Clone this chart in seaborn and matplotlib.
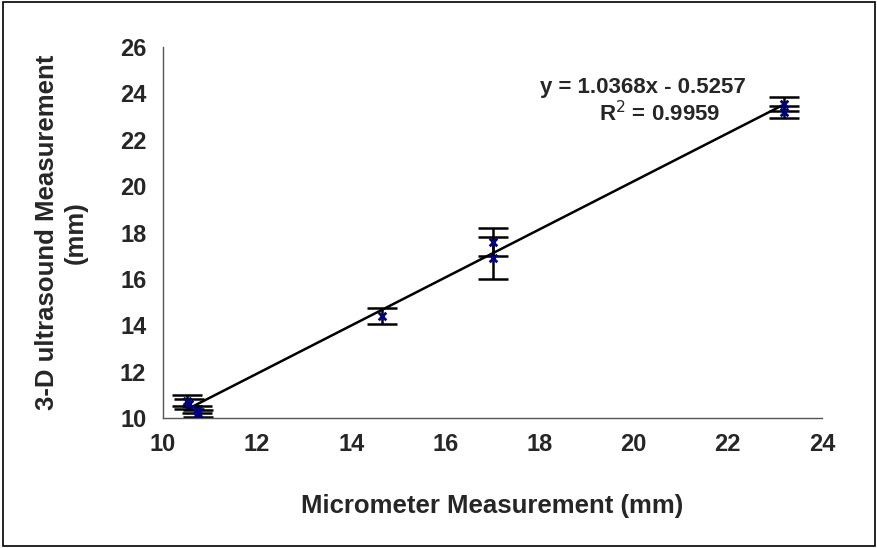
import numpy as np
import pandas as pd
import matplotlib
matplotlib.use("Agg")
import matplotlib.pyplot as plt
import seaborn as sns
from matplotlib.patches import Rectangle

# Data
micrometer = [10.52, 10.56, 10.72, 10.74, 14.65, 17.0, 17.0, 23.2, 23.2]
ultrasound = [10.75, 10.60, 10.35, 10.20, 14.40, 17.60, 16.90, 23.55, 23.20]
err = [0.25, 0.20, 0.15, 0.15, 0.33, 0.60, 0.90, 0.30, 0.25]
slope = 1.0368
intercept = -0.5257
r2 = 0.9959
x_ticks = [10, 12, 14, 16, 18, 20, 22, 24]
y_ticks = [10, 12, 14, 16, 18, 20, 22, 24, 26]

sns.set_style("white")
plt.rcParams['font.family'] = ['Liberation Sans', 'DejaVu Sans']

df = pd.DataFrame({"x": micrometer, "y": ultrasound, "e": err})

FS_TICK = 17
FS_LAB = 18.5
FS_EQ = 16

W, H = 878, 548
fig = plt.figure(figsize=(8.78, 5.48), dpi=100)
ax = fig.add_axes([163/W, 1-418/H, (822-163)/W, (418-47)/H])

ax.errorbar(df["x"], df["y"], yerr=df["e"], fmt='none', ecolor='black',
            elinewidth=1.8, capsize=11, capthick=1.8, zorder=2)
sns.scatterplot(data=df, x="x", y="y", marker='x', color='#000080', s=30,
                linewidth=2, ax=ax, zorder=3)

xl = np.array([min(micrometer), max(micrometer)])
ax.plot(xl, slope*xl + intercept, color='black', lw=1.8, zorder=2.5)

ax.set_xlim(10, 24)
ax.set_ylim(10, 26)
ax.set_xticks(x_ticks)
ax.set_yticks(y_ticks)
ax.tick_params(axis='both', direction='out', length=6, width=1, color='#555555',
               labelsize=FS_TICK, pad=6)
ax.tick_params(axis='x', pad=5)
for lab in ax.get_xticklabels() + ax.get_yticklabels():
    lab.set_fontweight('bold')
for s in ['top', 'right']:
    ax.spines[s].set_visible(False)
for s in ['left', 'bottom']:
    ax.spines[s].set_color('#555555')
    ax.spines[s].set_linewidth(1)

ax.set_xlabel("Micrometer Measurement (mm)", fontsize=FS_LAB, fontweight='bold')
ax.set_ylabel("3-D ultrasound Measurement\n(mm)", fontsize=FS_LAB, fontweight='bold',
              linespacing=1.25)
ax.xaxis.set_label_coords(0.5, (418-494)/371)
ax.yaxis.set_label_coords((88-163)/659, 0.5)

ax.text(746/W, 1-88/H, f"y = {slope:.4f}x - {abs(intercept):.4f}", transform=fig.transFigure,
        ha='right', va='center', fontsize=FS_EQ, fontweight='bold')
ax.text(720/W, 1-114/H, f"R$^2$ = {r2:.4f}", transform=fig.transFigure,
        ha='right', va='center', fontsize=FS_EQ, fontweight='bold')

fig.patches.append(Rectangle((0.003, 0.003), 0.994, 0.994, transform=fig.transFigure,
                             fill=False, edgecolor='black', lw=1.2))

fig.savefig("out.png", dpi=100)
